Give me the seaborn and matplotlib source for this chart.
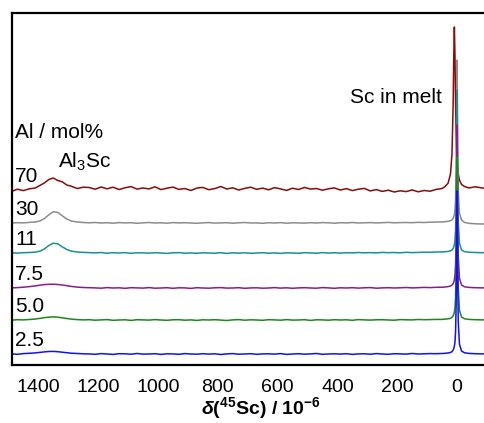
import numpy as np
import pandas as pd
import seaborn as sns
import matplotlib.pyplot as plt

# chemical shift grid (ppm), shared by all spectra
shift = [1490, 1470, 1450, 1430, 1410, 1395, 1380, 1365, 1350, 1335, 1320, 1305, 1290, 1270, 1250,
         1230, 1210, 1190, 1170, 1150, 1130, 1110, 1090, 1070, 1050, 1030, 1010, 990, 970, 950,
         930, 910, 890, 870, 850, 830, 810, 790, 770, 750, 730, 710, 690, 670, 650,
         630, 610, 590, 570, 550, 530, 510, 490, 470, 450, 430, 410, 390, 370, 350,
         330, 310, 290, 270, 250, 230, 210, 190, 170, 150, 130, 110, 90, 70, 50,
         40, 30, 22, 17, 13, 11, 9, 7, 5, 3, 2, 1, 0, -1, -2, -4, -8, -15, -25, -40, -60, -90]

al_2_5 = [0.2, -0.3, 0.4, 0.7, 1.1, 1.6, 2.1, 2.5, 2.6, 2.3, 1.8, 1.3, 0.8, 0.5, 0.2,
          0.1, -0.3, 0.4, 0.0, -0.4, 0.3, 0.2, -0.2, 0.5, -0.1, 0.0, 0.3, -0.4, 0.2, 0.1,
          -0.3, 0.4, 0.0, -0.2, 0.3, -0.1, 0.2, -0.5, 0.1, 0.4, -0.2, 0.0, 0.3, -0.3, 0.1,
          0.2, -0.1, 0.4, -0.4, 0.0, 0.3, -0.2, 0.1, 0.5, -0.3, 0.0, 0.2, -0.1, 0.3, -0.4,
          0.1, 0.2, -0.2, 0.4, 0.0, -0.3, 0.3, 0.1, -0.1, 0.5, 0.0, 0.2, 0.4, 0.3, 0.5,
          0.7, 1.0, 1.5, 2.4, 4.0, 5.5, 7.8, 12, 22, 50, 81, 130, 163, 130, 81, 32, 9.8, 3.0, 1.2, 0.6, 0.3, 0.1]
al_5_0 = [-0.2, 0.3, 0.1, 0.5, 1.0, 1.6, 2.3, 2.9, 3.1, 2.8, 2.2, 1.5, 0.9, 0.4, 0.1,
          0.3, -0.2, 0.1, 0.4, -0.3, 0.0, 0.2, -0.4, 0.3, 0.1, -0.1, 0.4, 0.0, -0.3, 0.2,
          0.3, -0.2, 0.1, -0.4, 0.2, 0.0, 0.3, -0.1, -0.5, 0.1, 0.4, -0.2, 0.2, 0.0, -0.3,
          0.3, 0.1, -0.2, 0.4, -0.1, 0.0, 0.3, -0.4, 0.2, 0.1, -0.2, 0.3, 0.0, 0.2, -0.3,
          0.4, 0.1, -0.1, 0.2, 0.3, 0.0, -0.2, 0.4, 0.2, 0.1, 0.5, 0.3, 0.4, 0.6, 0.6,
          0.9, 1.2, 1.7, 2.6, 4.2, 5.6, 8.0, 12.5, 22, 50, 81, 130, 163, 130, 81, 32, 9.8, 3.0, 1.2, 0.6, 0.3, 0.1]
al_7_5 = [0.1, 0.4, 0.8, 1.4, 2.1, 2.8, 3.4, 3.7, 3.8, 3.5, 3.0, 2.3, 1.6, 0.9, 0.5,
          0.3, 0.1, -0.2, 0.4, 0.0, 0.2, -0.3, 0.3, 0.1, -0.1, 0.4, -0.2, 0.0, 0.3, -0.3,
          0.2, 0.1, -0.4, 0.3, 0.0, -0.2, 0.2, 0.4, -0.1, 0.0, 0.3, -0.3, 0.1, 0.2, -0.2,
          0.0, 0.4, -0.1, 0.2, -0.3, 0.1, 0.3, 0.0, -0.2, 0.4, 0.1, -0.3, 0.2, 0.0, 0.3,
          -0.1, 0.2, 0.4, -0.2, 0.1, 0.3, 0.0, 0.2, 0.5, 0.1, 0.3, 0.6, 0.4, 0.7, 0.8,
          1.0, 1.4, 2.0, 2.9, 4.5, 6.0, 8.3, 13, 23, 51, 82, 131, 163, 130, 81, 32, 9.8, 3.0, 1.2, 0.6, 0.3, 0.1]
al_11 = [0.2, -0.1, 0.3, 0.5, 0.9, 1.8, 4.0, 7.5, 9.8, 9.2, 6.2, 3.5, 1.9, 1.0, 0.6,
         0.4, 0.1, 0.5, -0.2, 0.3, 0.0, 0.4, -0.3, 0.2, 0.1, -0.1, 0.3, 0.0, -0.4, 0.2,
         0.4, -0.2, 0.1, -0.3, 0.2, 0.0, -0.2, 0.3, -0.4, 0.1, -0.1, 0.2, -0.3, 0.0, 0.3,
         -0.2, 0.1, -0.4, 0.2, 0.0, -0.3, 0.3, 0.1, -0.2, 0.4, 0.0, 0.2, -0.1, 0.3, 0.1,
         0.5, 0.2, 0.4, 0.1, 0.6, 0.3, 0.5, 0.2, 0.7, 0.4, 0.6, 0.8, 0.7, 1.0, 1.1,
         1.3, 1.6, 2.2, 3.0, 4.6, 6.1, 8.4, 13, 23, 51, 82, 131, 163, 130, 81, 32, 9.8, 3.0, 1.4, 0.8, 0.5, 0.3]
al_30 = [0.0, 0.3, 0.1, 0.6, 1.0, 2.0, 4.4, 8.2, 11.2, 10.6, 7.2, 4.0, 2.0, 1.0, 0.5,
         0.2, 0.5, 0.0, 0.3, -0.2, 0.4, 0.1, 0.3, -0.3, 0.2, 0.5, 0.0, 0.2, -0.2, 0.4,
         0.1, 0.3, 0.0, -0.3, 0.2, 0.4, -0.1, 0.1, 0.3, -0.2, 0.2, 0.5, 0.0, 0.1, -0.3,
         0.3, 0.0, 0.4, -0.2, 0.2, 0.1, -0.1, 0.3, 0.0, 0.4, 0.2, -0.2, 0.3, 0.1, 0.5,
         0.0, 0.2, 0.4, 0.1, 0.3, 0.6, 0.2, 0.4, 0.5, 0.3, 0.7, 0.5, 0.8, 0.9, 1.1,
         1.3, 1.7, 2.3, 3.1, 4.7, 6.2, 8.5, 13, 23, 51, 82, 131, 163, 130, 81, 32, 9.8, 3.0, 0.5, -0.3, -0.8, -1.0]
al_70 = [-1.5, 0.8, -0.6, 1.2, 2.0, 4.5, 7.0, 10.5, 12.0, 9.5, 8.2, 5.0, 3.8, 1.5, 2.8,
         2.5, 0.8, 3.0, 1.2, 2.8, 0.5, 2.2, 3.4, 0.9, 2.0, 1.1, 3.2, 0.4, 1.8, 2.9,
         0.6, 1.5, -0.5, 1.9, 2.6, 0.3, 1.4, 3.5, 1.0, 2.2, 0.0, 1.6, 2.8, 0.7, 1.9,
         0.2, 2.4, 1.1, -0.4, 1.8, 0.5, 2.6, 0.9, 1.5, -0.2, 1.2, 2.1, 0.0, 1.4, -0.6,
         0.8, 1.6, -0.9, 0.4, -1.4, -0.2, -2.0, -0.8, -1.6, 0.1, -1.8, -0.5, -1.2, 0.6, 1.5,
         3.5, 6.8, 16, 36, 87, 134, 163, 134, 87, 55, 44, 36, 30, 25, 21, 16, 10, 5.5, 3.5, 2.0, 3.2, 1.8]

# stacking offsets (same units as intensities)
offsets = [11, 45, 77, 112, 142, 175]
labels = ['2.5', '5.0', '7.5', '11', '30', '70']
series = [al_2_5, al_5_0, al_7_5, al_11, al_30, al_70]
colors = ['#1010ff', '#1a8a1a', '#8e1a8e', '#1a9090', '#8c8c8c', '#8b0a0a']

sns.set_style('white')
plt.rcParams['font.family'] = ['Liberation Sans', 'DejaVu Sans']
plt.rcParams['text.color'] = 'black'
plt.rcParams['axes.labelcolor'] = 'black'
plt.rcParams['mathtext.fontset'] = 'custom'
plt.rcParams['mathtext.rm'] = 'Liberation Sans'
plt.rcParams['mathtext.it'] = 'Liberation Sans:italic'
plt.rcParams['mathtext.bf'] = 'Liberation Sans:bold'
plt.rcParams['mathtext.bfit'] = 'Liberation Sans:italic:bold'

fig = plt.figure(figsize=(4.84, 4.23), dpi=100)
ax = fig.add_axes([12 / 484, 58 / 423, 498 / 484, 352 / 423])

# top spectrum first, so the lower ones sit over it at the peak
for vals, off, col in reversed(list(zip(series, offsets, colors))):
    df = pd.DataFrame({'shift': shift, 'y': np.array(vals) + off})
    sns.lineplot(data=df, x='shift', y='y', color=col, lw=1.1, estimator=None, ax=ax)

ax.set_xlim(1488, -177)
ax.set_ylim(0, 352)
ax.set_xticks([1400, 1200, 1000, 800, 600, 400, 200, 0])
ax.set_yticks([])
ax.set_xlabel('')
ax.set_ylabel('')
ax.tick_params(axis='x', direction='in', length=6, width=1.5, labelsize=14, pad=10, colors='black')
for s in ax.spines.values():
    s.set_linewidth(1.6)
    s.set_color('black')

# axis title, centred under the visible part of the axis
fig.text(261 / 484, 1 - 414 / 423, r'$\mathbfit{\delta}\mathbf{(^{45}Sc)\ /\ 10^{-6}}$',
         fontsize=14, ha='center', va='baseline')

# stack labels
for lab, off in zip(labels, offsets):
    ax.text(1478, off + 8, lab, fontsize=15, ha='left', va='baseline')
ax.text(1478, 227, 'Al / mol%', fontsize=15, ha='left', va='baseline')
ax.text(1334, 197, r'Al$_3$Sc', fontsize=15, ha='left', va='baseline')
ax.text(358, 262, 'Sc in melt', fontsize=15, ha='left', va='baseline')

fig.savefig('out.png', dpi=100)
